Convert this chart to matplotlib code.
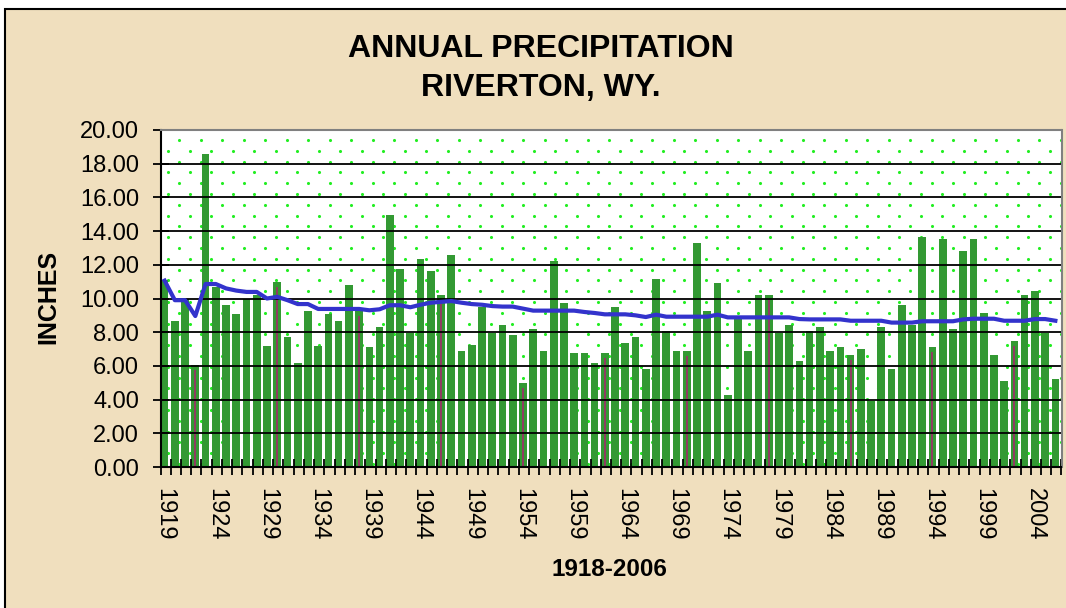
import numpy as np
import matplotlib
matplotlib.use("Agg")
import matplotlib.pyplot as plt
from matplotlib.patches import Rectangle

plt.rcParams['font.family'] = ['Liberation Sans', 'DejaVu Sans']

years = list(range(1919, 2007))

precip = [11.1, 8.64, 10.0, 6.03, 18.6, 10.7, 9.6, 9.1, 9.95, 10.2,
          7.2, 11.0, 7.7, 6.15, 9.26, 7.2, 9.1, 8.65, 10.78, 9.24,
          7.1, 8.29, 14.94, 11.73, 7.93, 12.32, 11.61, 10.19, 12.56, 6.86,
          7.22, 9.48, 7.93, 8.41, 7.81, 4.97, 8.17, 6.86, 12.2, 9.71,
          6.75, 6.75, 6.15, 6.75, 9.48, 7.34, 7.7, 5.8, 11.14, 8.05,
          6.86, 6.86, 13.27, 9.24, 10.9, 4.25, 8.88, 6.86, 10.19, 10.19,
          7.93, 8.41, 6.27, 8.05, 8.29, 6.86, 7.1, 6.63, 6.98, 3.9,
          8.29, 5.8, 9.59, 8.41, 13.63, 7.1, 13.51, 8.17, 12.8, 13.51,
          9.12, 6.63, 5.08, 7.46, 10.19, 10.43, 7.93, 5.2]

running_avg = [11.06, 9.9, 9.9, 8.96, 10.86, 10.86, 10.6, 10.47, 10.39, 10.39,
               10.0, 10.1, 9.9, 9.67, 9.67, 9.38, 9.38, 9.38, 9.38, 9.38,
               9.3, 9.36, 9.6, 9.6, 9.48, 9.63, 9.75, 9.8, 9.85, 9.75,
               9.67, 9.63, 9.55, 9.52, 9.52, 9.4, 9.28, 9.28, 9.28, 9.28,
               9.28, 9.2, 9.14, 9.06, 9.06, 9.06, 9.0, 8.9, 9.04, 8.92,
               8.92, 8.92, 8.92, 8.92, 9.04, 8.88, 8.88, 8.88, 8.88, 8.88,
               8.88, 8.88, 8.78, 8.76, 8.76, 8.76, 8.76, 8.68, 8.68, 8.68,
               8.68, 8.57, 8.57, 8.57, 8.65, 8.65, 8.65, 8.65, 8.76, 8.8,
               8.8, 8.8, 8.68, 8.68, 8.68, 8.78, 8.78, 8.68]

marked_years = [1922, 1930, 1938, 1946, 1954, 1962, 1970, 1978, 1986, 1994, 2002]
label_years = list(range(1919, 2005, 5))

W, H = 1066, 608
fig = plt.figure(figsize=(W / 100, H / 100), dpi=100, facecolor='white')

# parchment panel with black frame (top and left edges visible)
bg = Rectangle((5 / W, -0.1), 1.2, 1.1 - 9 / H, transform=fig.transFigure,
               facecolor='#F0DFBE', edgecolor='black', linewidth=1.5, zorder=-1)
fig.patches.append(bg)

ax = fig.add_axes([160.5 / W, 1 - 467 / H, 901 / W, 337 / H])
ax.set_facecolor('white')

x = np.arange(len(years))

# dotted fill pattern
ax_w, ax_h = 901, 337
for r, ypx in enumerate(np.arange(10, ax_h, 10.8)):
    x0 = 18.8 if r % 2 == 0 else 7.8
    xs = np.arange(x0, ax_w, 21.5)
    ax.scatter(xs / ax_w, np.full(len(xs), 1 - ypx / ax_h), s=5, color='#22EE22',
               linewidths=0, transform=ax.transAxes, zorder=0.5)

ax.bar(x, precip, width=0.75, color='#339933', zorder=1)

idx = [years.index(y) for y in marked_years]
ax.vlines(idx, 0, [precip[i] - 0.3 for i in idx], color='#993366', linewidth=1.3, zorder=1.5)

for v in range(2, 20, 2):
    ax.axhline(v, color='black', linewidth=1.3, zorder=2)

ax.plot(x, running_avg, color='#3333CC', linewidth=3, zorder=3)

ax.set_xlim(-0.29, 87.6)
ax.set_ylim(0, 20)
ax.set_yticks(np.arange(0, 21, 2))
ax.set_yticklabels(['%.2f' % v for v in np.arange(0, 21, 2)])
ax.set_xticks([years.index(y) for y in label_years])
ax.set_xticklabels([str(y) for y in label_years], rotation=270)
ax.set_xticks(np.arange(-0.4, 88, 1.0), minor=True)

ax.tick_params(axis='y', direction='inout', length=11, width=1.3, pad=10, labelsize=17)
ax.tick_params(axis='x', which='major', length=0, pad=15, labelsize=17)
ax.tick_params(axis='x', which='minor', direction='inout', length=11, width=1.3)

for s in ['left', 'bottom']:
    ax.spines[s].set_color('black')
    ax.spines[s].set_linewidth(1.5)
for s in ['top', 'right']:
    ax.spines[s].set_color('#808080')
    ax.spines[s].set_linewidth(1.5)

fig.text(541 / W, 1 - 49 / H, 'ANNUAL PRECIPITATION', ha='center', va='center',
         fontsize=23, fontweight='bold')
fig.text(541 / W, 1 - 88 / H, 'RIVERTON, WY.', ha='center', va='center',
         fontsize=23, fontweight='bold')
fig.text(48 / W, 1 - 297 / H, 'INCHES', ha='center', va='center', rotation=90,
         fontsize=18, fontweight='bold')
fig.text(609 / W, 1 - 570 / H, '1918-2006', ha='center', va='center',
         fontsize=17.5, fontweight='bold')

fig.savefig('out.png', dpi=100, facecolor=fig.get_facecolor())
